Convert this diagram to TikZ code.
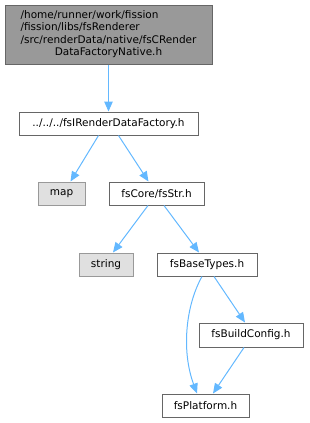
\documentclass[tikz,border=0pt]{standalone}
\usepackage{fontspec}
\setmainfont{DejaVu Sans}
\usetikzlibrary{arrows.meta}
\definecolor{edgeblue}{HTML}{63B8FF}
\definecolor{boxborder}{HTML}{666666}
\definecolor{greyborder}{HTML}{999999}
\definecolor{topfill}{HTML}{999999}
\definecolor{extfill}{HTML}{E0E0E0}
\begin{document}
\begin{tikzpicture}[x=1pt,y=-1pt,
  box/.style={draw=boxborder,fill=white,line width=1pt,inner sep=0pt,
    font=\fontsize{10.5}{12.2}\selectfont},
  extbox/.style={box,draw=greyborder,fill=extfill},
  topbox/.style={box,fill=topfill},
  dep/.style={draw=edgeblue,line width=1pt,-{Triangle[length=10pt,width=8.5pt]}}]
\useasboundingbox (0,0) rectangle (309,423);
\node[topbox,minimum width=207pt,minimum height=59pt] (top) at (108.5,34.5)
  {\begin{tabular}{@{}l@{}}/home/runner/work/fission\\/fission/libs/fsRenderer\\/src/renderData/native/fsCRender\\\multicolumn{1}{@{}c@{}}{DataFactoryNative.h}\end{tabular}};
\node[box,minimum width=179pt,minimum height=23pt] (irdf) at (108.5,123.5) {../../../fsIRenderDataFactory.h};
\node[extbox,minimum width=47pt,minimum height=23pt] (map) at (61.5,193.5) {map};
\node[box,minimum width=95pt,minimum height=23pt] (str) at (156.5,193.5) {fsCore/fsStr.h};
\node[extbox,minimum width=54pt,minimum height=23pt] (string) at (106,264.5) {string};
\node[box,minimum width=100pt,minimum height=23pt] (base) at (207,264.5) {fsBaseTypes.h};
\node[box,minimum width=104pt,minimum height=24pt] (build) at (251,335) {fsBuildConfig.h};
\node[box,minimum width=87pt,minimum height=23pt] (plat) at (205.5,405.5) {fsPlatform.h};
\draw[dep] (top.south) -- (irdf.north);
\draw[dep] ([xshift=-10pt]irdf.south) -- ([xshift=9pt]map.north);
\draw[dep] ([xshift=10pt]irdf.south) -- ([xshift=-8pt]str.north);
\draw[dep] ([xshift=-8.5pt]str.south) -- ([xshift=7pt]string.north);
\draw[dep] ([xshift=7.5pt]str.south) -- ([xshift=-8pt]base.north);
\draw[dep] ([xshift=-5pt]base.south) .. controls (186,305) and (181,350) .. ([xshift=-8.5pt]plat.north);
\draw[dep] ([xshift=7pt]base.south) -- ([xshift=-6pt]build.north);
\draw[dep] ([xshift=-7pt]build.south) -- ([xshift=7.5pt]plat.north);
\end{tikzpicture}
\end{document}
